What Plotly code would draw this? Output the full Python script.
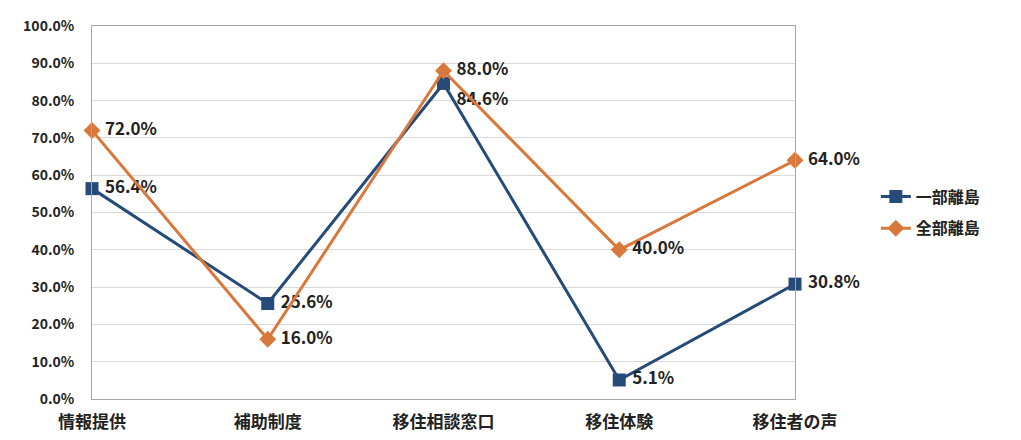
import plotly.graph_objects as go

categories = ["情報提供", "補助制度", "移住相談窓口", "移住体験", "移住者の声"]
series_names = ["一部離島", "全部離島"]
ichibu = [56.4, 25.6, 84.6, 5.1, 30.8]
zenbu = [72.0, 16.0, 88.0, 40.0, 64.0]
y_ticks = [0, 10, 20, 30, 40, 50, 60, 70, 80, 90, 100]

FONT = "Noto Sans CJK JP"
BLUE = "#264B78"
ORANGE = "#D8783A"
xs = list(range(len(categories)))

ichibu_pos = ["middle right", "middle right", "bottom right", "middle right", "middle right"]
zenbu_pos = ["middle right"] * 5

fig = go.Figure()
fig.add_trace(go.Scatter(
    x=xs, y=ichibu, name=series_names[0], legendgroup="a",
    mode="lines+markers+text",
    line=dict(color=BLUE, width=3),
    marker=dict(symbol="square", size=13, color=BLUE),
    text=[f"{v:.1f}%" for v in ichibu], texttemplate=" %{text}",
    textposition=ichibu_pos,
    textfont=dict(family=FONT, size=17, color="#222222", weight="bold"),
    cliponaxis=False,
))
fig.add_trace(go.Scatter(
    x=xs, y=zenbu, name=series_names[1], legendgroup="b",
    mode="lines+markers+text",
    line=dict(color=ORANGE, width=3),
    marker=dict(symbol="diamond", size=13, color=ORANGE),
    text=[f"{v:.1f}%" for v in zenbu], texttemplate=" %{text}",
    textposition=zenbu_pos,
    textfont=dict(family=FONT, size=17, color="#222222", weight="bold"),
    cliponaxis=False,
))

fig.update_layout(
    width=1021, height=440,
    margin=dict(l=92, r=226, t=26, b=41),
    paper_bgcolor="white", plot_bgcolor="white",
    font=dict(family=FONT, color="#222222"),
    legend=dict(x=1.115, y=0.5, xanchor="left", yanchor="middle",
                font=dict(family=FONT, size=16, color="#222222", weight="bold"),
                tracegroupgap=8, bgcolor="rgba(0,0,0,0)"),
    xaxis=dict(range=[0, 4], tickvals=xs, ticktext=categories,
               showgrid=False, zeroline=False, automargin=False,
               showline=True, mirror=True, linecolor="#A6A6A6", linewidth=1,
               tickfont=dict(family=FONT, size=17, color="#222222", weight="bold"),
               ticks="", ticklabelstandoff=8),
    yaxis=dict(range=[0, 100], tickvals=y_ticks,
               ticktext=[f"{v:.1f}%" for v in y_ticks],
               showgrid=True, gridcolor="#D9D9D9", gridwidth=1, zeroline=False,
               automargin=False,
               showline=True, mirror=True, linecolor="#A6A6A6", linewidth=1,
               tickfont=dict(family=FONT, size=14, color="#222222", weight="bold"),
               ticks="", ticklabelstandoff=14),
)

fig.write_html("out.html")
